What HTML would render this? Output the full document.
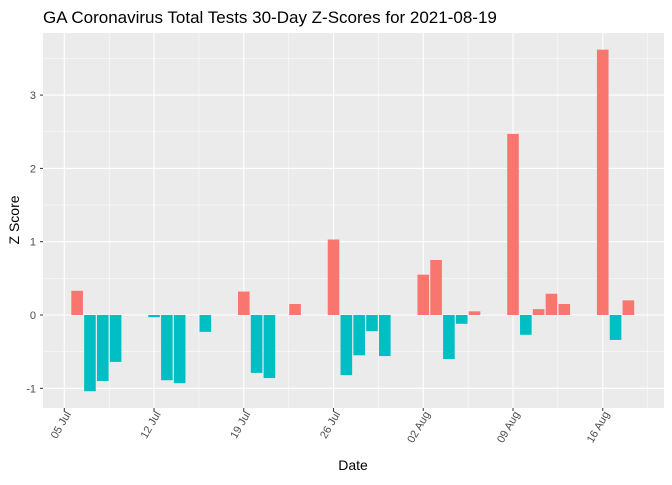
<!DOCTYPE html>
<html><head><meta charset="utf-8"><style>
body{margin:0;background:#fff;font-family:"Liberation Sans",sans-serif}
</style></head><body>
<svg id="chart" width="672" height="480" xmlns="http://www.w3.org/2000/svg" font-family="Liberation Sans, sans-serif">
<text x="43" y="23" font-size="17" fill="#000">GA Coronavirus Total Tests 30-Day Z-Scores for 2021-08-19</text>
<rect x="43" y="33" width="621" height="375" fill="#ebebeb"/>
<g id="grid"></g><g id="bars"></g><g id="axes"></g>
<text x="353" y="470" font-size="14" text-anchor="middle">Date</text>
<text transform="translate(19,220) rotate(-90)" font-size="14" text-anchor="middle">Z Score</text>
</svg>
<script>
// day offsets from 05 Jul
const days=[1,2,3,4,7,8,9,11,14,15,16,18,21,22,23,24,25,28,29,30,31,32,35,36,37,38,39,42,43,44];
const values=[0.33,-1.04,-0.90,-0.64,-0.03,-0.89,-0.93,-0.23,0.32,-0.79,-0.86,0.15,1.03,-0.82,-0.55,-0.22,-0.56,0.55,0.75,-0.60,-0.12,0.05,2.47,-0.27,0.08,0.29,0.15,3.62,-0.34,0.20];
const xTickDays=[0,7,14,21,28,35,42];
const xTickLabels=["05 Jul","12 Jul","19 Jul","26 Jul","02 Aug","09 Aug","16 Aug"];
const yTicks=[-1,0,1,2,3];
const NS="http://www.w3.org/2000/svg";
const x=d=>64.3+d*12.82;
const y=v=>315-v*73.3;
function mk(tag,at,parent){const e=document.createElementNS(NS,tag);for(const k in at)e.setAttribute(k,at[k]);parent.appendChild(e);return e;}
const grid=document.getElementById('grid'),bars=document.getElementById('bars'),axes=document.getElementById('axes');
for(let k=-2;k<=7;k++){const v=k/2;const l=mk('line',{x1:43,x2:664,y1:y(v),y2:y(v),stroke:'#fff','stroke-width':(k%2===0)?1.1:0.5},grid);

}
for(let k=-1;k<=13;k++){const d=k*3.5;const l=mk('line',{x1:x(d),x2:x(d),y1:33,y2:408,stroke:'#fff','stroke-width':(k%2===0)?1.1:0.5},grid);

}
days.forEach((d,i)=>{const v=values[i];const r=mk('rect',{x:x(d)-5.8,width:11.6,y:Math.min(y(v),y(0)),height:Math.abs(y(v)-y(0)),fill:v>=0?'#f8766d':'#00bfc4'},bars);

});
yTicks.forEach(v=>{const t=mk('text',{x:36,y:y(v)+4,'font-size':11,'text-anchor':'end',fill:'#4d4d4d'},axes);t.textContent=v;


mk('line',{x1:40,x2:43,y1:y(v),y2:y(v),stroke:'#333'},axes);});
xTickDays.forEach((d,i)=>{mk('line',{x1:x(d),x2:x(d),y1:408,y2:411,stroke:'#333'},axes);
const t=mk('text',{transform:`translate(${x(d)+7},${414}) rotate(-60)`,'font-size':11,'text-anchor':'end',fill:'#4d4d4d'},axes);t.textContent=xTickLabels[i];

});
</script>
</body></html>
